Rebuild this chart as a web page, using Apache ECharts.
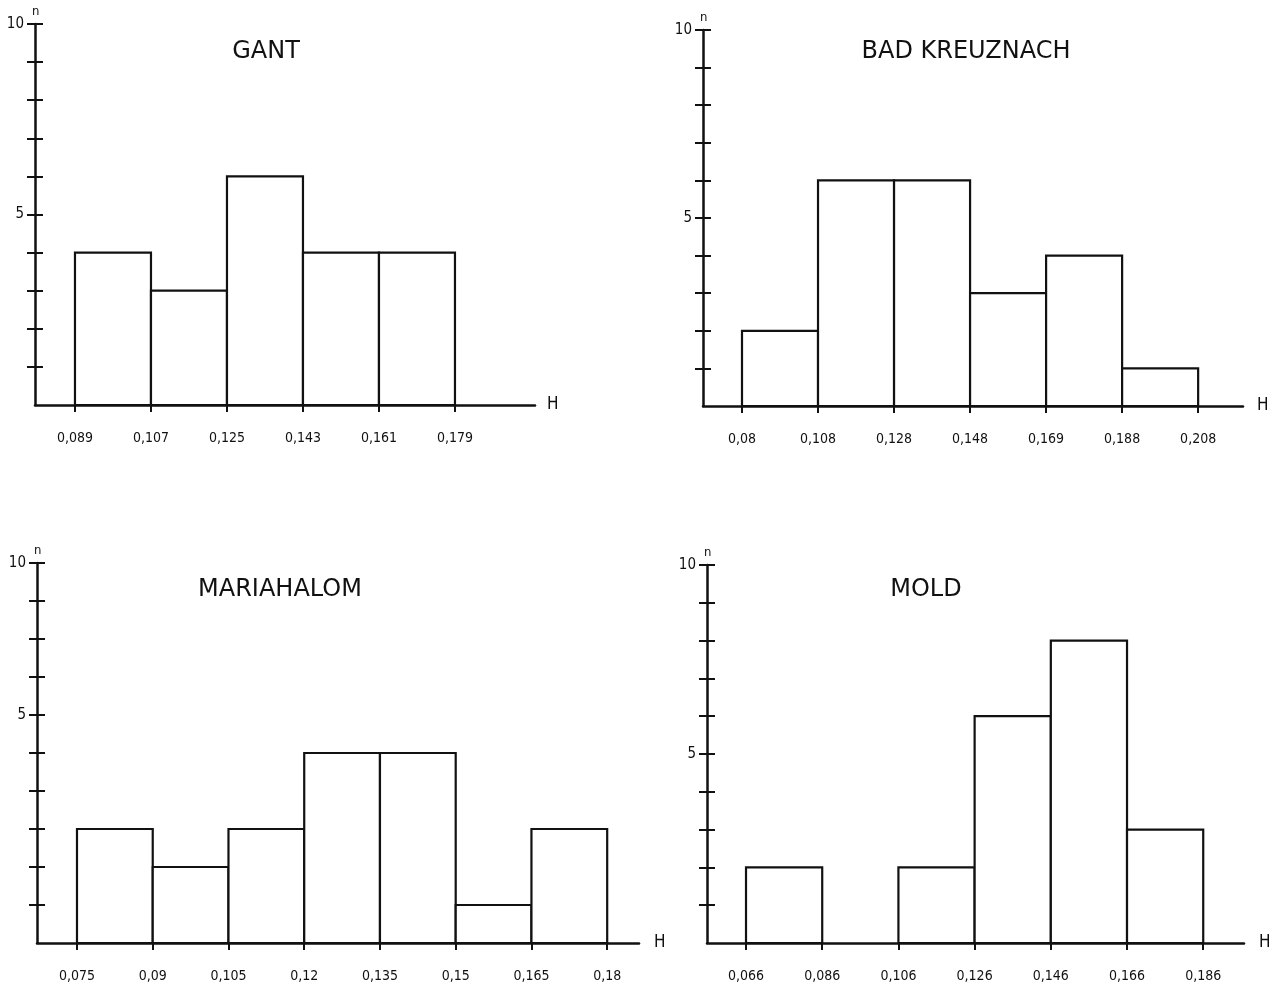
<!DOCTYPE html>
<html><head><meta charset="utf-8">
<script src="https://cdn.jsdelivr.net/npm/echarts@6/dist/echarts.min.js"></script>
<style>html,body{margin:0;padding:0;background:#fff}#c{width:1280px;height:989px}</style>
</head><body><div id="c"></div>
<script>
// ---- data (bin edges as printed, counts per bin) ----
const gantEdges = ['0,089','0,107','0,125','0,143','0,161','0,179'];
const gantCounts = [4,3,6,4,4];
const badEdges = ['0,08','0,108','0,128','0,148','0,169','0,188','0,208'];
const badCounts = [2,6,6,3,4,1];
const mariaEdges = ['0,075','0,09','0,105','0,12','0,135','0,15','0,165','0,18'];
const mariaCounts = [3,2,3,5,5,1,3];
const moldEdges = ['0,066','0,086','0,106','0,126','0,146','0,166','0,186'];
const moldCounts = [2,0,2,6,8,3];
const titles = ['GANT','BAD KREUZNACH','MARIAHALOM','MOLD'];
// y tick labels as printed (tick value -> label)
const gantYLabels = {5:'5',10:'10'};
const badYLabels = {5:'5',10:'10'};
const mariaYLabels = {6:'5',10:'10'}; // the printed "5" sits on the 6th tick in the original
const moldYLabels = {5:'5',10:'10'};
const yTickValues = [1,2,3,4,5,6,7,8,9,10];

const panels = [
  {edges:gantEdges, counts:gantCounts, ylab:gantYLabels, title:titles[0], left:35, top:24, width:500, height:381, min:-0.526, max:6.053, tx:266, ty:52, hGap:12},
  {edges:badEdges, counts:badCounts, ylab:badYLabels, title:titles[1], left:703, top:30, width:540, height:376, min:-0.513, max:6.59, tx:966, ty:52, hGap:14},
  {edges:mariaEdges, counts:mariaCounts, ylab:mariaYLabels, title:titles[2], left:37, top:563, width:602, height:380, min:-0.528, max:7.42, tx:280, ty:590, hGap:15},
  {edges:moldEdges, counts:moldCounts, ylab:moldYLabels, title:titles[3], left:707, top:565, width:537, height:378, min:-0.512, max:6.535, tx:926, ty:590, hGap:15}
];

const INK = '#111';
const FONT = "'DejaVu Sans Condensed','Liberation Sans Narrow','DejaVu Sans',sans-serif";

const option = {
  animation:false,
  backgroundColor:'#fff',
  grid:[], xAxis:[], yAxis:[], series:[], graphic:[]
};

panels.forEach((p, gi) => {
  option.grid.push({left:p.left, top:p.top, width:p.width, height:p.height, containLabel:false});
  const idx = p.edges.map((_, i) => i);
  option.xAxis.push({
    type:'value', gridIndex:gi, min:p.min, max:p.max, position:'bottom',
    name:'H', nameLocation:'end', nameGap:p.hGap,
    nameTextStyle:{color:INK, fontSize:17, fontFamily:FONT},
    axisLine:{show:true, onZero:false, lineStyle:{color:INK, width:2.5}},
    axisTick:{show:true, customValues:idx, length:7, lineStyle:{color:INK, width:2}},
    axisLabel:{show:true, customValues:idx, margin:26, color:INK, fontSize:14, fontFamily:FONT,
      formatter:(v) => p.edges[Math.round(v)]},
    splitLine:{show:false}
  });
  // y axis with inside ticks + labels
  option.yAxis.push({
    type:'value', gridIndex:gi, min:0, max:10, interval:1, position:'left', offset:0,
    name:'n', nameLocation:'end', nameGap:6,
    nameTextStyle:{color:INK, fontSize:13, fontFamily:FONT, align:'left', padding:[0,0,0,-3]},
    axisLine:{show:true, onZero:false, lineStyle:{color:INK, width:2.5}},
    axisTick:{show:true, inside:true, length:8, customValues:yTickValues, lineStyle:{color:INK, width:2}},
    axisLabel:{show:true, margin:11, color:INK, fontSize:15, fontFamily:FONT,
      formatter:(v) => p.ylab[v] || ''},
    splitLine:{show:false}
  });
  // second y axis (same position) for the outer half of the crossing ticks
  option.yAxis.push({
    type:'value', gridIndex:gi, min:0, max:10, interval:1, position:'left', offset:0,
    axisLine:{show:false, onZero:false},
    axisTick:{show:true, inside:false, length:8, customValues:yTickValues, lineStyle:{color:INK, width:2}},
    axisLabel:{show:false},
    splitLine:{show:false}
  });
  const data = [];
  p.counts.forEach((c, i) => { if (c > 0) data.push([i, i + 1, c]); });
  option.series.push({
    type:'custom', xAxisIndex:gi, yAxisIndex:gi * 2,
    encode:{x:[0,1], y:2},
    data:data,
    renderItem:(params, api) => {
      const a = api.coord([api.value(0), api.value(2)]);
      const b = api.coord([api.value(1), 0]);
      return {type:'rect', shape:{x:a[0], y:a[1], width:b[0]-a[0], height:b[1]-a[1]},
        style:{fill:'#fff', stroke:INK, lineWidth:2.2}};
    }
  });
  option.graphic.push({type:'text', x:p.tx, y:p.ty,
    style:{text:p.title, fill:INK, fontSize:24, fontFamily:"'DejaVu Sans',sans-serif", align:'center', verticalAlign:'middle'}});
});

const chart = echarts.init(document.getElementById('c'), null, {renderer:'canvas'});
chart.setOption(option);
</script>
</body></html>
